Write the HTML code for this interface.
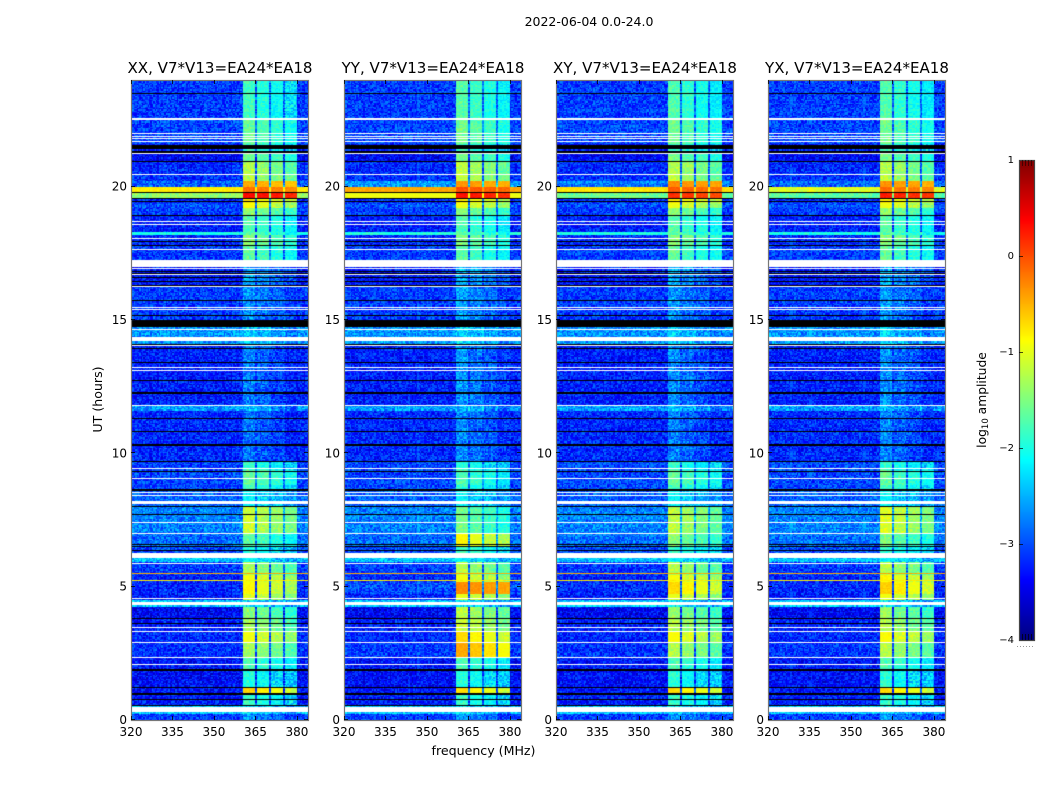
<!DOCTYPE html>
<html>
<head>
<meta charset="utf-8">
<title>2022-06-04 0.0-24.0</title>
<style>
html,body{margin:0;padding:0;background:#fff;}
#figure{position:relative;width:1050px;height:800px;overflow:hidden;background:#fff;}
#figure canvas{position:absolute;display:block;}
#overlay{position:absolute;left:0;top:0;}
text{font-family:"DejaVu Sans","Liberation Sans",sans-serif;fill:#000;}
</style>
</head>
<body>
<div id="figure">
<svg id="overlay" width="1050" height="800" viewBox="0 0 1050 800">
  <text x="589" y="26" font-size="12.5" text-anchor="middle">2022-06-04 0.0-24.0</text>
  <text x="483.5" y="755" font-size="12.6" text-anchor="middle">frequency (MHz)</text>
  <text transform="translate(102 399.5) rotate(-90)" font-size="12.6" text-anchor="middle">UT (hours)</text>
  <text transform="translate(986 400) rotate(-90)" font-size="12.3" text-anchor="middle">log<tspan font-size="8.5" dy="2">10</tspan><tspan dy="-2"> amplitude</tspan></text>
</svg>
</div>
<script>
// ---------- Axis values ----------
const freqTicks = [320, 335, 350, 365, 380];
const hourTicks = [0, 5, 10, 15, 20];
const colorTicks = [1, 0, -1, -2, -3, -4];
const panelNames = ["XX", "YY", "XY", "YX"];
const baselineLabel = "V7*V13=EA24*EA18";

// ---------- Frequency structure (MHz) ----------
const subbandStartMHz = [360.5, 365.7, 370.7, 375.7];
const subbandEndMHz = [365, 370, 375, 380];
const subbandOffset = [0.15, 0, -0.15, -0.3];

// ---------- Time segments: upper edge of each, in UT hours ----------
const segmentTopHours = [24,22.54,21.6,21.23,20.96,20.48,20.21,19.99,19.8,19.58,19.39,19.2,18.94,18.3,18.19,17.81,17.25,16.99,16.24,15,14.74,14.06,11.81,11.59,9.71,9.38,8.81,8.63,8.03,7.01,6.53,6.26,6.08,5.93,5.44,5.18,4.73,4.5,4.24,3.79,3.3,2.93,2.36,1.88,1.24,0.98,0.56,0.23];

// ---------- log10 amplitude outside the 360-380 MHz band, one per segment ----------
const backgroundXX = [-3.1,-3.05,-3.3,-3.4,-3.2,-3.15,-2.9,-0.8,-1.4,-3.2,-3,-3.1,-3.25,-2,-3.2,-3.1,-2.6,-3.3,-3.1,-3.3,-2.65,-3.25,-2.6,-3.2,-3.05,-3.05,-3.05,-2.9,-2.75,-2.85,-3,-2.6,-2.4,-3.1,-3.25,-3.2,-3.3,-2.4,-3.4,-3.25,-3.2,-3.15,-3.3,-3.35,-3.3,-3.25,-2.4,-3.1];
const backgroundYY = [-3.1,-3.05,-3.3,-3.4,-3.2,-3.15,-2.6,-0.45,-0.95,-3.2,-3,-3.1,-3.25,-2,-3.2,-3.1,-2.6,-3.3,-3.1,-3.3,-2.65,-3.25,-2.6,-3.2,-3.05,-3.05,-3.05,-2.9,-2.75,-2.85,-3,-2.6,-2.4,-3.1,-3.2,-3,-3.25,-2.4,-3.4,-3.25,-3.2,-3.1,-3.3,-3.35,-3.3,-3.25,-2.4,-3.1];
const backgroundXY = [-3.1,-3.05,-3.3,-3.4,-3.2,-3.15,-2.8,-0.75,-1.6,-3.2,-3,-3.1,-3.25,-2,-3.2,-3.1,-2.6,-3.3,-3.1,-3.3,-2.65,-3.25,-2.6,-3.2,-3.05,-3.05,-3.05,-2.9,-2.75,-2.85,-3,-2.6,-2.4,-3.1,-3.25,-3.2,-3.3,-2.4,-3.4,-3.25,-3.2,-3.15,-3.3,-3.35,-3.3,-3.25,-2.4,-3.1];
const backgroundYX = [-3.1,-3.05,-3.3,-3.4,-3.2,-3.15,-2.9,-1.05,-1.7,-3.2,-3,-3.1,-3.25,-2,-3.2,-3.1,-2.6,-3.3,-3.1,-3.3,-2.65,-3.25,-2.6,-3.2,-3.05,-3.05,-3.05,-2.9,-2.75,-2.85,-3,-2.6,-2.4,-3.1,-3.25,-3.2,-3.3,-2.4,-3.4,-3.25,-3.2,-3.15,-3.3,-3.35,-3.3,-3.25,-2.4,-3.1];

// ---------- log10 amplitude inside the 360-380 MHz band, one per segment ----------
const bandXX = [-1.95,-1.75,-2,-1.7,-1.4,-1.35,-0.5,-0.2,0.3,-0.9,-1.05,-1.55,-1.85,-1.85,-1.6,-1.8,-2.4,-2.7,-2.8,-3,-2.5,-2.9,-2.6,-2.95,-2,-1.75,-1.95,-2.3,-1.25,-1.8,-2.1,-2.4,-2.3,-1.45,-1.1,-1,-1.2,-2.4,-1.6,-1.45,-1.1,-1.45,-1.9,-2.1,-0.8,-2,-2.4,-2.8];
const bandYY = [-1.85,-1.7,-2,-1.7,-1.35,-1.3,-0.4,-0.05,0.25,-0.95,-1.1,-1.6,-1.9,-1.85,-1.65,-1.85,-2.4,-2.65,-2.75,-3,-2.45,-2.8,-2.6,-2.85,-2.1,-1.9,-2.05,-2.3,-1.7,-1,-1.95,-2.4,-2.3,-1.4,-1.1,-0.35,-1.15,-2.4,-1.35,-1.25,-0.85,-0.6,-1.9,-2.1,-0.85,-2,-2.4,-2.8];
const bandXY = [-1.9,-1.75,-2,-1.7,-1.4,-1.35,-0.35,-0.1,0.1,-0.95,-1.1,-1.6,-1.85,-1.85,-1.6,-1.8,-2.4,-2.7,-2.8,-3,-2.5,-2.85,-2.6,-2.9,-2.05,-1.8,-1.95,-2.3,-1.35,-1.6,-2.05,-2.4,-2.3,-1.4,-1.05,-0.85,-1.15,-2.4,-1.55,-1.4,-1.05,-1.4,-1.9,-2.1,-0.85,-2,-2.4,-2.8];
const bandYX = [-1.9,-1.75,-2,-1.7,-1.4,-1.35,-0.4,-0.2,0.2,-0.95,-1.1,-1.6,-1.85,-1.85,-1.6,-1.8,-2.4,-2.7,-2.8,-3,-2.5,-2.85,-2.6,-2.9,-2.05,-1.8,-1.95,-2.3,-1.2,-1.7,-2.05,-2.4,-2.3,-1.4,-1,-0.8,-1.1,-2.4,-1.55,-1.4,-1.05,-1.4,-1.9,-2.1,-0.85,-2,-2.4,-2.8];

// ---------- Narrow interference lines ----------
const hotLineHours = [5.5, 5.22];
const hotLineLevels = [-0.45, -0.8];

// ---------- Flagged times (hours): black = zero, white = no data ----------
const blackLineHours = [23.5,20.96,19.78,18.91,17.94,17.81,16.83,16.73,16.58,16.44,16.31,15.72,15.15,14.09,13.94,13.41,12.75,11.31,10.83,9.69,9.31,8,7.69,6.59,6.51,3.8,3.63,1.23,0.78,0.56];
const blackBandTop = [21.58,21.35,19.58,19.47,15,12.29,10.34,8.66,6.39,1.91,1];
const blackBandBottom = [21.41,21.26,19.52,19.41,14.74,12.22,10.27,8.6,6.33,1.85,0.94];
const whiteLineHours = [22,21.89,21.79,21.69,21.23,20.46,18.71,18.6,18.04,17.65,16.94,16.69,16.25,15.46,15.38,14.65,14.04,13.21,13.09,11.8,9.44,9.06,8.54,8.4,7.41,7,5.88,4.55,3.46,3.33,2.91,2.35,2.07];
const whiteBandTop = [22.57,17.25,14.37,8.21,6.25,4.41,0.5];
const whiteBandBottom = [22.51,17,14.21,8.1,6.06,4.31,0.31];

// ---------- Hand-typed per-cell texture offsets (visual grain, not measured data) ----------
const grain = [0.31,-0.72,0.55,-0.14,0.92,-0.48,0.07,-0.95,0.63,0.18,-0.33,0.81,-0.61,0.26,-0.08,0.47,-0.87,0.74,-0.22,0.12,-0.54,0.98,-0.39,0.03,0.66,-0.77,0.38,-0.17,0.85,-0.66,0.21,-0.03,0.52,-0.91,0.09,0.71,-0.28,-0.58,0.43,0.16,-0.81,0.59,-0.11,0.34,-0.44,0.89,-0.69,0.24,-0.25,0.77,-0.36,0.01,-0.52];

// ---------- Axis functions ----------
const plotTop = 80, plotHeight = 640, plotWidth = 177;
const panelLeft = [131, 344, 556, 768];
const fMin = 320, fMax = 384, hMax = 24;
const xOfFreq = function (f, left) { return left + (f - fMin) / (fMax - fMin) * plotWidth; };
const yOfHour = function (h) { return plotTop + (1 - h / hMax) * plotHeight; };
const hourOfY = function (py) { return hMax * (1 - (py + 0.5) / plotHeight); };
const freqOfX = function (px) { return fMin + (px + 0.5) / plotWidth * (fMax - fMin); };
const cbLeft = 1019, cbTop = 160, cbWidth = 15, cbHeight = 480;
const cMin = -4, cMax = 1;
const yOfColor = function (v) { return cbTop + (cMax - v) / (cMax - cMin) * cbHeight; };

function clamp01(x) { return x < 0 ? 0 : x > 1 ? 1 : x; }
function jet(v) {
  const t = clamp01((v - cMin) / (cMax - cMin));
  return [
    255 * clamp01(1.5 - Math.abs(4 * t - 3)),
    255 * clamp01(1.5 - Math.abs(4 * t - 2)),
    255 * clamp01(1.5 - Math.abs(4 * t - 1))
  ];
}
function segmentIndexAt(h) {
  for (let i = segmentTopHours.length - 1; i >= 0; i--) {
    if (h <= segmentTopHours[i] && (i === segmentTopHours.length - 1 || h > segmentTopHours[i + 1])) return i;
  }
  return 0;
}
function subbandAt(f) {
  for (let i = 0; i < subbandStartMHz.length; i++) {
    if (f >= subbandStartMHz[i] && f < subbandEndMHz[i]) return i;
  }
  return -1;
}
function inGapRegion(f) { return f >= subbandStartMHz[0] && f < subbandEndMHz[subbandEndMHz.length - 1]; }
function rowFlag(py) {
  const top = hourOfY(py - 0.5), bottom = hourOfY(py + 0.5);
  const hit = function (h) { return h <= top && h > bottom; };
  for (let i = 0; i < whiteLineHours.length; i++) if (hit(whiteLineHours[i])) return "white";
  for (let i = 0; i < blackLineHours.length; i++) if (hit(blackLineHours[i])) return "black";
  const mid = hourOfY(py);
  for (let i = 0; i < whiteBandTop.length; i++) if (mid <= whiteBandTop[i] && mid > whiteBandBottom[i]) return "white";
  for (let i = 0; i < blackBandTop.length; i++) if (mid <= blackBandTop[i] && mid > blackBandBottom[i]) return "black";
  return null;
}

const backgroundByPanel = [backgroundXX, backgroundYY, backgroundXY, backgroundYX];
const bandByPanel = [bandXX, bandYY, bandXY, bandYX];
const figure = document.getElementById("figure");
const overlay = document.getElementById("overlay");
const NS = "http://www.w3.org/2000/svg";

function drawHeatmap(p) {
  const canvas = document.createElement("canvas");
  
  
  canvas.width = plotWidth;
  canvas.height = plotHeight;
  canvas.style.left = panelLeft[p] + "px";
  canvas.style.top = plotTop + "px";
  figure.insertBefore(canvas, overlay);
  const ctx = canvas.getContext("2d");
  const img = ctx.createImageData(plotWidth, plotHeight);
  const bg = backgroundByPanel[p], band = bandByPanel[p];
  for (let py = 0; py < plotHeight; py++) {
    const flag = rowFlag(py);
    const h = hourOfY(py);
    const seg = segmentIndexAt(h);
    const row = Math.floor(h / 0.05);
    let hotLevel = null;
    for (let k = 0; k < hotLineHours.length; k++) {
      if (hotLineHours[k] <= hourOfY(py - 0.5) && hotLineHours[k] > hourOfY(py + 0.5)) hotLevel = hotLineLevels[k];
    }
    for (let px = 0; px < plotWidth; px++) {
      const o = (py * plotWidth + px) * 4;
      let rgb;
      if (flag === "white") rgb = [255, 255, 255];
      else if (flag === "black") rgb = [0, 0, 0];
      else {
        const f = freqOfX(px);
        const chan = Math.floor((f - fMin) / 0.5);
        const sb = subbandAt(f);
        let level;
        if (sb >= 0) {
          const hot = band[seg] > -0.6;
          level = band[seg] + (hot ? subbandOffset[sb] * 0.3 : subbandOffset[sb]);
        } else if (inGapRegion(f)) {
          level = bg[seg] > -1.5 ? bg[seg] : bg[seg] + 0.2;
        } else {
          level = bg[seg];
        }
        if (hotLevel !== null) level = Math.max(level, hotLevel);
        const amp = level > -1.05 ? 0.08 : level > -2.2 ? 0.22 : 0.42;
        const idx = (chan * chan * 3 + row * row * 7 + chan * row * 11 + chan * 5 + row * 2 + p * 13) % grain.length;
        rgb = jet(level + grain[idx] * amp);
      }
      img.data[o] = rgb[0];
      img.data[o + 1] = rgb[1];
      img.data[o + 2] = rgb[2];
      img.data[o + 3] = 255;
    }
  }
  ctx.putImageData(img, 0, 0);
}

function addLine(parent, x1, y1, x2, y2, stroke, width) {
  const l = document.createElementNS(NS, "line");
  l.setAttribute("x1", x1);
  l.setAttribute("y1", y1);
  l.setAttribute("x2", x2);
  l.setAttribute("y2", y2);
  l.setAttribute("stroke", stroke);
  l.setAttribute("stroke-width", width);
  parent.appendChild(l);
  return l;
}
function addText(parent, x, y, str, size, anchor) {
  const t = document.createElementNS(NS, "text");
  t.setAttribute("x", x);
  t.setAttribute("y", y);
  t.setAttribute("font-size", size);
  t.setAttribute("text-anchor", anchor);
  t.textContent = str;
  parent.appendChild(t);
  return t;
}

function drawAxes(p) {
  const left = panelLeft[p], key = panelNames[p].toLowerCase();
  const g = document.createElementNS(NS, "g");
  
  
  overlay.appendChild(g);

  const title = addText(g, left + plotWidth / 2 + 0.5, 73, panelNames[p] + ", " + baselineLabel, 15.05, "middle");
  
  

  const frame = document.createElementNS(NS, "rect");
  
  
  frame.setAttribute("x", left + 0.5);
  frame.setAttribute("y", plotTop + 0.5);
  frame.setAttribute("width", plotWidth);
  frame.setAttribute("height", plotHeight);
  frame.setAttribute("fill", "none");
  frame.setAttribute("stroke", "#777");
  frame.setAttribute("stroke-width", "1.2");
  g.appendChild(frame);

  freqTicks.forEach(function (f) {
    const x = Math.round(xOfFreq(f, left)) + 0.5;
    const tickB = addLine(g, x, plotTop + plotHeight, x, plotTop + plotHeight - 4, "#000", 0.8);
    
    
    const tickT = addLine(g, x, plotTop, x, plotTop + 4, "#000", 0.8);
    
    
    const label = addText(g, xOfFreq(f, left), 736, String(f), 12, "middle");
    
    
  });
  hourTicks.forEach(function (h) {
    const y = Math.round(yOfHour(h)) - 0.5;
    const tickL = addLine(g, left, y, left + 4, y, "#000", 0.8);
    
    
    const tickR = addLine(g, left + plotWidth, y, left + plotWidth - 4, y, "#000", 0.8);
    
    
    const label = addText(g, left - 4, yOfHour(h) + 4, String(h), 12, "end");
    
    
  });
}

function drawColorbar() {
  const canvas = document.createElement("canvas");
  
  
  canvas.width = cbWidth;
  canvas.height = cbHeight;
  canvas.style.left = cbLeft + "px";
  canvas.style.top = cbTop + "px";
  figure.insertBefore(canvas, overlay);
  const ctx = canvas.getContext("2d");
  for (let py = 0; py < cbHeight; py++) {
    const rgb = jet(cMax - (py + 0.5) / cbHeight * (cMax - cMin));
    ctx.fillStyle = "rgb(" + Math.round(rgb[0]) + "," + Math.round(rgb[1]) + "," + Math.round(rgb[2]) + ")";
    ctx.fillRect(0, py, cbWidth, 1);
  }
  const g = document.createElementNS(NS, "g");
  
  
  overlay.appendChild(g);

  const frame = document.createElementNS(NS, "rect");
  
  
  frame.setAttribute("x", cbLeft + 0.5);
  frame.setAttribute("y", cbTop + 0.5);
  frame.setAttribute("width", cbWidth);
  frame.setAttribute("height", cbHeight);
  frame.setAttribute("fill", "none");
  frame.setAttribute("stroke", "#444");
  frame.setAttribute("stroke-width", "1.2");
  g.appendChild(frame);

  colorTicks.forEach(function (v) {
    const y = yOfColor(v);
    const str = v < 0 ? "\u2212" + Math.abs(v) : String(v);
    const label = addText(g, cbLeft - 5, y + 3, str, 10, "end");
    
    
    if (v !== cMax && v !== cMin) {
      const tick = addLine(g, cbLeft, Math.round(y) + 0.5, cbLeft + 4, Math.round(y) + 0.5, "#000", 0.7);
      
      
    }
  });
  for (let i = 1; i <= 4; i++) {
    const x = cbLeft + i * 3 + 0.5;
    const top = addLine(g, x, cbTop, x, cbTop + 6, "#300", 0.8);
    
    
    const bottom = addLine(g, x, cbTop + cbHeight - 6, x, cbTop + cbHeight, "#001", 0.8);
    
    
  }
  const dots = addLine(g, cbLeft - 2, 646.5, cbLeft + cbWidth + 1, 646.5, "#999", 1);
  
  
  dots.setAttribute("stroke-dasharray", "1 2");
}

panelNames.forEach(function (name, p) {
  drawHeatmap(p);
  drawAxes(p);
});
drawColorbar();
</script>
</body>
</html>
